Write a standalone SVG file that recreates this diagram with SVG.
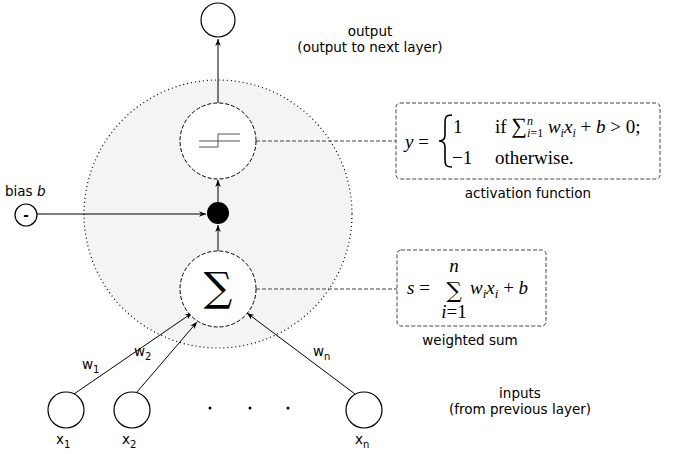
<svg xmlns="http://www.w3.org/2000/svg" width="677" height="454" viewBox="0 0 677 454">
<style>
.n{fill:#fff;stroke:#000;stroke-width:1.2}
.d{fill:#fff;stroke:#000;stroke-width:1;stroke-dasharray:4,2}
.c{stroke:#000;stroke-width:1;fill:none}
.dl{stroke:#444;stroke-width:1;stroke-dasharray:4,2;fill:none}
.t{font-family:"DejaVu Sans",sans-serif;font-size:13.5px;fill:#000}
.m{font-family:"Liberation Serif",serif;font-size:19px;fill:#000}
.i{font-style:italic}
</style>
<defs><marker id="a" viewBox="0 0 10 10" refX="10" refY="5" markerWidth="7" markerHeight="7" orient="auto"><path d="M0,1 L10,5 L0,9 L3,5z" fill="#000"/></marker></defs>
<g id="neuron"><circle cx="218" cy="214" r="134" fill="#f4f4f4" stroke="#000" stroke-width="1.2" stroke-dasharray="1,3"/></g>
<g id="connectors">
<line class="c" x1="218" y1="103" x2="218" y2="39" marker-end="url(#a)"/>
<line class="c" x1="218" y1="202" x2="218" y2="180" marker-end="url(#a)"/>
<line class="c" x1="218" y1="251" x2="218" y2="225" marker-end="url(#a)"/>
<line class="c" x1="37" y1="214" x2="206" y2="214" marker-end="url(#a)"/>
<line class="c" x1="74" y1="394" x2="192" y2="313" marker-end="url(#a)"/>
<line class="c" x1="137" y1="392" x2="197" y2="322" marker-end="url(#a)"/>
<line class="c" x1="355" y1="394" x2="247" y2="313" marker-end="url(#a)"/>
<line class="dl" x1="256" y1="141" x2="396" y2="141"/>
<line class="dl" x1="256" y1="289" x2="397" y2="289"/>
</g>
<g id="output"><circle class="n" cx="218" cy="20" r="17"/></g>
<text class="t" x="370" y="36" text-anchor="middle">output</text>
<text class="t" x="370" y="52" text-anchor="middle">(output to next layer)</text>
<g id="activation"><circle class="d" cx="218" cy="141" r="38"/>
<path d="M199,141 H240 M199,147 H218 V134 H240" stroke="#555" stroke-width="1" fill="none"/></g>
<g id="dot"><circle cx="218" cy="213" r="11" fill="#000"/></g>
<g id="sum"><circle class="d" cx="218" cy="289" r="38"/>
<text x="218" y="301" text-anchor="middle" style="font-family:'DejaVu Serif',serif;font-size:40px">∑</text></g>
<g id="bias"><circle class="n" cx="26" cy="215" r="11"/><text class="t" x="26" y="220" text-anchor="middle" font-weight="bold">-</text></g>
<text class="t" x="5" y="196">bias <tspan font-style="italic">b</tspan></text>
<g id="actbox"><rect class="dl" x="396" y="103" width="264" height="76" rx="4" fill="#fff"/>
<text class="m" x="405" y="148"><tspan class="i">y</tspan> =</text>
<path d="M452,115 C445,115 445,118 445,123 L445,135 C445,139 443,141 439,141 C443,141 445,143 445,147 L445,159 C445,164 445,167 452,167" stroke="#000" stroke-width="1.6" fill="none"/>
<text class="m" x="453" y="133">1</text>
<text class="m" x="495" y="133">if <tspan font-size="22">∑</tspan><tspan font-size="12" dy="-8" class="i">n</tspan><tspan font-size="12" dy="12" dx="-6"><tspan class="i">i</tspan>=1</tspan><tspan dy="-4"> </tspan><tspan class="i">w<tspan font-size="12" dy="4">i</tspan><tspan dy="-4">x</tspan><tspan font-size="12" dy="4">i</tspan></tspan><tspan dy="-4" font-style="normal"> + </tspan><tspan class="i">b</tspan> &gt; 0;</text>
<text class="m" x="452" y="164">−1</text>
<text class="m" x="495" y="164">otherwise.</text></g>
<text class="t" x="528" y="198" text-anchor="middle">activation function</text>
<g id="sumbox"><rect class="dl" x="397" y="250" width="149" height="76" rx="4" fill="#fff"/>
<text class="m" x="407" y="294"><tspan class="i">s</tspan> =</text>
<text x="454" y="298" text-anchor="middle" style="font-family:'DejaVu Serif',serif;font-size:22px">∑</text>
<text x="454" y="272" text-anchor="middle" class="m i" font-size="13">n</text>
<text x="454" y="318" text-anchor="middle" class="m" font-size="13"><tspan class="i">i</tspan>=1</text>
<text class="m" x="470" y="294"><tspan class="i">w</tspan><tspan font-size="13" dy="4" class="i">i</tspan><tspan dy="-4" class="i">x</tspan><tspan font-size="13" dy="4" class="i">i</tspan><tspan dy="-4"> + </tspan><tspan class="i">b</tspan></text></g>
<text class="t" x="470" y="345" text-anchor="middle">weighted sum</text>
<g id="x1"><circle class="n" cx="66" cy="410" r="18"/></g>
<g id="x2"><circle class="n" cx="132" cy="410" r="18"/></g>
<g id="xn"><circle class="n" cx="364" cy="410" r="18"/></g>
<circle cx="210" cy="408" r="1.5"/><circle cx="250" cy="408" r="1.5"/><circle cx="288" cy="408" r="1.5"/>
<text class="t" x="56" y="444">x<tspan font-size="10" dy="4">1</tspan></text>
<text class="t" x="122" y="444">x<tspan font-size="10" dy="4">2</tspan></text>
<text class="t" x="355" y="444">x<tspan font-size="10" dy="4">n</tspan></text>
<text class="t" x="82" y="369">w<tspan font-size="10" dy="4">1</tspan></text>
<text class="t" x="134" y="356">w<tspan font-size="10" dy="4">2</tspan></text>
<text class="t" x="313" y="356">w<tspan font-size="10" dy="4">n</tspan></text>
<text class="t" x="520" y="398" text-anchor="middle">inputs</text>
<text class="t" x="520" y="414" text-anchor="middle">(from previous layer)</text>
</svg>
